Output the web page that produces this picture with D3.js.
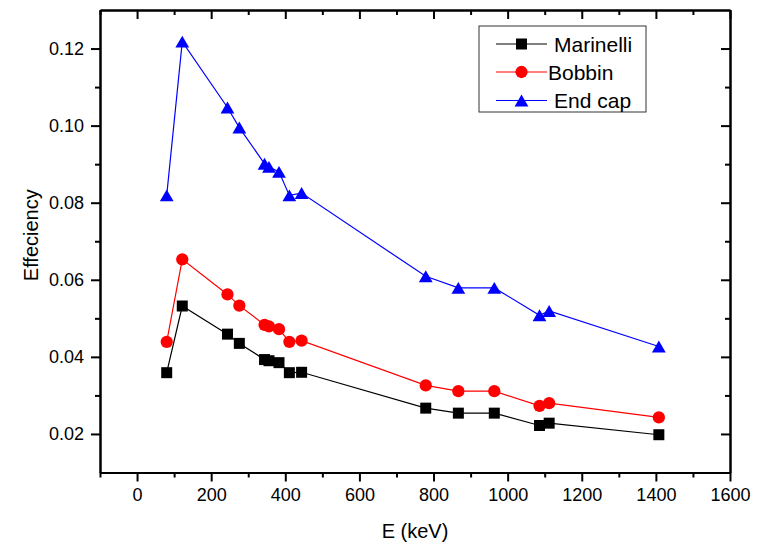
<!DOCTYPE html>
<html>
<head>
<meta charset="utf-8">
<script src="https://cdn.jsdelivr.net/npm/d3@7"></script>
<style>
  html, body { margin: 0; padding: 0; background: #fff; }
  svg { display: block; font-family: "Liberation Sans", Arial, sans-serif; }
</style>
</head>
<body>
<svg id="chart" width="767" height="544"></svg>
<script>
// Gamma-line energies (keV) and detection efficiency per geometry
const energies = [80, 122, 244, 276, 344, 356, 383, 411, 444, 779, 867, 964, 1086, 1112, 1408];
const marinelli = [0.0359, 0.0532, 0.0459, 0.0435, 0.0393, 0.0390, 0.0385, 0.0359, 0.0360, 0.0267, 0.0254, 0.0254, 0.0222, 0.0228, 0.0198];
const bobbin    = [0.0439, 0.0653, 0.0562, 0.0533, 0.0483, 0.0479, 0.0472, 0.0439, 0.0442, 0.0326, 0.0311, 0.0311, 0.0273, 0.0280, 0.0243];
const endCap    = [0.0819, 0.1218, 0.1047, 0.0995, 0.0901, 0.0893, 0.0880, 0.0819, 0.0825, 0.0609, 0.0579, 0.0579, 0.0508, 0.0519, 0.0427];

const seriesNames = ["Marinelli", "Bobbin", "End cap"];
const xMajorTicks = [0, 200, 400, 600, 800, 1000, 1200, 1400, 1600];
const xMinorTicks = [-100, 100, 300, 500, 700, 900, 1100, 1300, 1500];
const yMajorTicks = [0.02, 0.04, 0.06, 0.08, 0.10, 0.12];
const yMinorTicks = [0.03, 0.05, 0.07, 0.09, 0.11];

const xLabel = "E (keV)";
const yLabel = "Effeciency";

// Triangle centred on its bounding box
const triangleBox = {
  draw(ctx, size) {
    const s = Math.sqrt(size);       // side length
    const h = s * Math.sqrt(3) / 2;  // height
    ctx.moveTo(0, -h / 2);
    ctx.lineTo(s / 2, h / 2);
    ctx.lineTo(-s / 2, h / 2);
    ctx.closePath();
  }
};

const series = [
  { name: seriesNames[0], values: marinelli, color: "#000000", symbol: d3.symbolSquare, size: 121 },
  { name: seriesNames[1], values: bobbin,    color: "#ff0000", symbol: d3.symbolCircle, size: 118 },
  { name: seriesNames[2], values: endCap,    color: "#0000ff", symbol: triangleBox,     size: 190 }
];

const svg = d3.select("#chart");
const plotLeft = 100, plotRight = 730, plotTop = 10, plotBottom = 472.5;

const x = d3.scaleLinear().domain([-100, 1600]).range([plotLeft, plotRight]);
const y = d3.scaleLinear().domain([0.01, 0.13]).range([plotBottom, plotTop]);

function axis(orient, scale, values, size, withLabels, fmt) {
  let a;
  if (orient === "bottom") a = d3.axisBottom(scale);
  else if (orient === "top") a = d3.axisTop(scale);
  else if (orient === "left") a = d3.axisLeft(scale);
  else a = d3.axisRight(scale);
  a.tickValues(values).tickSizeInner(size).tickSizeOuter(0).tickPadding(7);
  a.tickFormat(withLabels ? fmt : () => "");
  return a;
}

const fmtX = d3.format("d");
const fmtY = d3.format(".2f");

function styleAxis(g, fontSize) {
  g.selectAll("path.domain").attr("stroke", "#000").attr("stroke-width", 2);
  g.selectAll(".tick line").attr("stroke", "#000").attr("stroke-width", 2);
  g.selectAll(".tick text").attr("fill", "#000").style("font-size", fontSize + "px")
    .style("font-family", '"Liberation Sans", Arial, sans-serif');
}

// Frame: outward ticks on bottom/left, inward mirrored ticks on top/right
svg.append("g").attr("transform", `translate(0,${plotBottom})`)
  .call(axis("bottom", x, xMinorTicks, 5, false)).call(g => styleAxis(g, 18));
svg.append("g").attr("transform", `translate(0,${plotBottom})`)
  .call(axis("bottom", x, xMajorTicks, 9, true, fmtX)).call(g => styleAxis(g, 18));
svg.append("g").attr("transform", `translate(0,${plotTop})`)
  .call(axis("top", x, xMinorTicks, -5, false)).call(g => styleAxis(g, 18));
svg.append("g").attr("transform", `translate(0,${plotTop})`)
  .call(axis("top", x, xMajorTicks, -9, false)).call(g => styleAxis(g, 18));
svg.append("g").attr("transform", `translate(${plotLeft},0)`)
  .call(axis("left", y, yMinorTicks, 5, false)).call(g => styleAxis(g, 18));
svg.append("g").attr("transform", `translate(${plotLeft},0)`)
  .call(axis("left", y, yMajorTicks, 9, true, fmtY)).call(g => styleAxis(g, 18));
svg.append("g").attr("transform", `translate(${plotRight},0)`)
  .call(axis("right", y, yMinorTicks, -5, false)).call(g => styleAxis(g, 18));
svg.append("g").attr("transform", `translate(${plotRight},0)`)
  .call(axis("right", y, yMajorTicks, -9, false)).call(g => styleAxis(g, 18));

// Axis titles
svg.append("text")
  .attr("x", (plotLeft + plotRight) / 2).attr("y", 538)
  .attr("text-anchor", "middle")
  .style("font-size", "20px").attr("fill", "#000")
  .text(xLabel);

svg.append("text")
  .attr("transform", `translate(38,${(plotTop + plotBottom) / 2 - 6}) rotate(-90)`)
  .attr("text-anchor", "middle")
  .style("font-size", "20px").attr("fill", "#000")
  .text(yLabel);

// Series lines and markers
const line = d3.line().x(d => x(d[0])).y(d => y(d[1]));
const plot = svg.append("g");

series.forEach(s => {
  const pts = energies.map((e, i) => [e, s.values[i]]);
  plot.append("path")
    .datum(pts)
    .attr("fill", "none")
    .attr("stroke", s.color)
    .attr("stroke-width", 1.2)
    .attr("d", line);
  plot.append("g").selectAll("path")
    .data(pts)
    .join("path")
    .attr("transform", d => `translate(${x(d[0])},${y(d[1])})`)
    .attr("d", d3.symbol().type(s.symbol).size(s.size))
    .attr("fill", s.color);
});

// Legend
const legend = svg.append("g").attr("transform", "translate(479,26)");
legend.append("rect")
  .attr("x", 0).attr("y", 0).attr("width", 167).attr("height", 86)
  .attr("fill", "#fff").attr("stroke", "#333").attr("stroke-width", 1);

const legendRows = [18, 46, 74.5];
const legendTextX = [75, 69, 75];
series.forEach((s, i) => {
  const row = legend.append("g").attr("transform", `translate(0,${legendRows[i]})`);
  row.append("line").attr("x1", 17).attr("x2", 68).attr("y1", 0).attr("y2", 0)
    .attr("stroke", s.color).attr("stroke-width", 1.2);
  row.append("path").attr("transform", "translate(42.5,0)")
    .attr("d", d3.symbol().type(s.symbol).size(s.size))
    .attr("fill", s.color);
  row.append("text").attr("x", legendTextX[i]).attr("y", 7.5)
    .style("font-size", "21px").attr("fill", "#000")
    .text(s.name);
});
</script>
</body>
</html>
